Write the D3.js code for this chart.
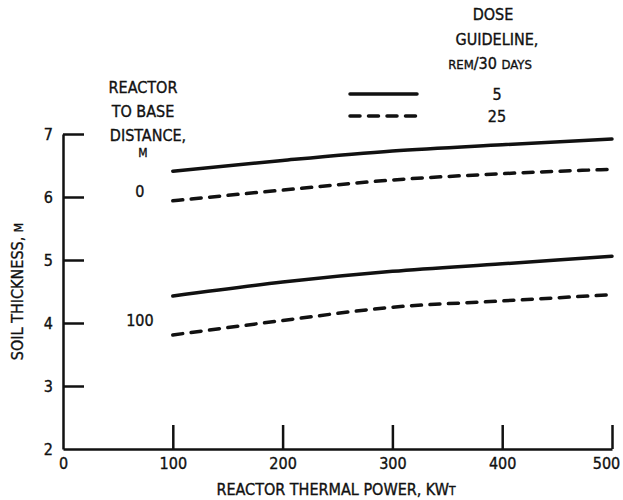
<!DOCTYPE html>
<html>
<head>
<meta charset="utf-8">
<script src="https://cdn.jsdelivr.net/npm/d3@7"></script>
<style>
  body { margin: 0; background: #fff; }
  svg text { font-family: "Liberation Sans Narrow", "DejaVu Sans Condensed", sans-serif; fill: #111; stroke: #111; stroke-width: 0.35px; }
</style>
</head>
<body>
<div id="chart-container"></div>
<script>
/* CONSTANTS AND GLOBALS */
const width = 623,
  height = 500;

// reactor thermal power, kWt
const power = [100, 200, 300, 400, 500];
// soil thickness, m  (distance 0 m)
const dist0Dose5 = [6.41, 6.58, 6.73, 6.83, 6.92];
const dist0Dose25 = [5.94, 6.11, 6.27, 6.37, 6.44];
// soil thickness, m  (distance 100 m)
const dist100Dose5 = [4.43, 4.65, 4.82, 4.94, 5.06];
const dist100Dose25 = [3.81, 4.04, 4.25, 4.35, 4.45];

const xTicks = [0, 100, 200, 300, 400, 500];
const yTicks = [2, 3, 4, 5, 6, 7];
const doseLevels = ["5", "25"];

const series = [
  { dist: "0", dose: "5", values: dist0Dose5 },
  { dist: "0", dose: "25", values: dist0Dose25 },
  { dist: "100", dose: "5", values: dist100Dose5 },
  { dist: "100", dose: "25", values: dist100Dose25 }
];

const svg = d3.select("#chart-container")
  .append("svg")
  .attr("width", width)
  .attr("height", height);

// + SCALES
const xScale = d3.scaleLinear()
  .domain([0, 500])
  .range([63, 612]);

const yScale = d3.scaleLinear()
  .domain([2, 7])
  .range([449, 134]);

// + AXES
const xAxis = d3.axisBottom(xScale)
  .tickValues(xTicks)
  .tickFormat(d3.format("d"))
  .tickSizeInner(-24)
  .tickSizeOuter(0)
  .tickPadding(6);

const yAxis = d3.axisLeft(yScale)
  .tickValues(yTicks)
  .tickFormat(d3.format("d"))
  .tickSizeInner(-21)
  .tickSizeOuter(0)
  .tickPadding(10);

const xAxisGroup = svg.append("g")
  .attr("class", "xAxis")
  .attr("transform", `translate(0, ${yScale(2)})`)
  .call(xAxis);

const yAxisGroup = svg.append("g")
  .attr("class", "yAxis")
  .attr("transform", `translate(${xScale(0)}, 0)`)
  .call(yAxis);

svg.selectAll(".xAxis .domain, .yAxis .domain, .tick line")
  .attr("stroke", "#111")
  .attr("stroke-width", 2.5);

svg.selectAll(".tick text")
  .attr("font-family", null)
  .attr("font-size", 16)
  .attr("fill", "#111");

// hide the upward tick at 0 and the right-going tick at 2 (they sit on the axes)
xAxisGroup.selectAll(".tick line").filter(d => d === 0).remove();
yAxisGroup.selectAll(".tick line").filter(d => d === 2).remove();
xAxisGroup.selectAll(".tick text").attr("dy", "0.9em");
// last label sits against the right edge
xAxisGroup.selectAll(".tick text").filter(d => d === 500).attr("dx", -6);

// axis titles
svg.append("text")
  .attr("x", 336)
  .attr("y", 495)
  .attr("text-anchor", "middle")
  .attr("font-size", 16)
  .text("REACTOR THERMAL POWER, KW")
  .append("tspan")
  .attr("font-size", 12)
  .text("T");

svg.append("text")
  .attr("transform", `translate(23, ${yScale(4.5)}) rotate(-90)`)
  .attr("text-anchor", "middle")
  .attr("font-size", 16)
  .text("SOIL THICKNESS, ")
  .append("tspan")
  .attr("font-size", 12)
  .text("M");

// + LINES
const lineGen = d3.line()
  .x((d, i) => xScale(power[i]))
  .y(d => yScale(d))
  .curve(d3.curveMonotoneX);

svg.selectAll(".line")
  .data(series)
  .join("path")
  .attr("class", "line")
  .attr("fill", "none")
  .attr("stroke", "#111")
  .attr("stroke-width", 3.5)
  .attr("stroke-linecap", "round")
  .attr("stroke-dasharray", d => d.dose === "25" ? "10 8.5" : null)
  .attr("d", d => lineGen(d.values));

// distance labels beside the curve pairs
const distLabels = [
  { text: "0", y: 6.0 },
  { text: "100", y: 3.95 }
];
svg.selectAll(".dist-label")
  .data(distLabels)
  .join("text")
  .attr("class", "dist-label")
  .attr("x", xScale(70))
  .attr("y", d => yScale(d.y))
  .attr("text-anchor", "middle")
  .attr("font-size", 16)
  .text(d => d.text);

// distance heading
const distHead = svg.append("g").attr("text-anchor", "middle").attr("font-size", 16);
distHead.append("text").attr("x", 143).attr("y", 93).text("REACTOR");
distHead.append("text").attr("x", 143).attr("y", 117).text("TO BASE");
distHead.append("text").attr("x", 148).attr("y", 141).text("DISTANCE,");
distHead.append("text").attr("x", 143).attr("y", 157).attr("font-size", 12).text("M");

// + LEGEND
const legend = svg.append("g").attr("font-size", 16).attr("text-anchor", "middle");
legend.append("text").attr("x", 493).attr("y", 20).text("DOSE");
legend.append("text").attr("x", 497).attr("y", 45).text("GUIDELINE,");
const remLine = legend.append("text").attr("x", 490).attr("y", 69);
remLine.append("tspan").attr("font-size", 13).text("REM");
remLine.append("tspan").text("/30 ");
remLine.append("tspan").attr("font-size", 13).text("DAYS");

const legendRows = legend.selectAll(".legend-row")
  .data(doseLevels)
  .join("g")
  .attr("class", "legend-row")
  .attr("transform", (d, i) => `translate(0, ${94 + i * 22})`);

legendRows.append("line")
  .attr("x1", 350)
  .attr("x2", 417)
  .attr("stroke", "#111")
  .attr("stroke-width", 3.5)
  .attr("stroke-linecap", "round")
  .attr("stroke-dasharray", d => d === "25" ? "10 8.5" : null);

legendRows.append("text")
  .attr("x", 497)
  .attr("y", 6)
  .text(d => d);
</script>
</body>
</html>
